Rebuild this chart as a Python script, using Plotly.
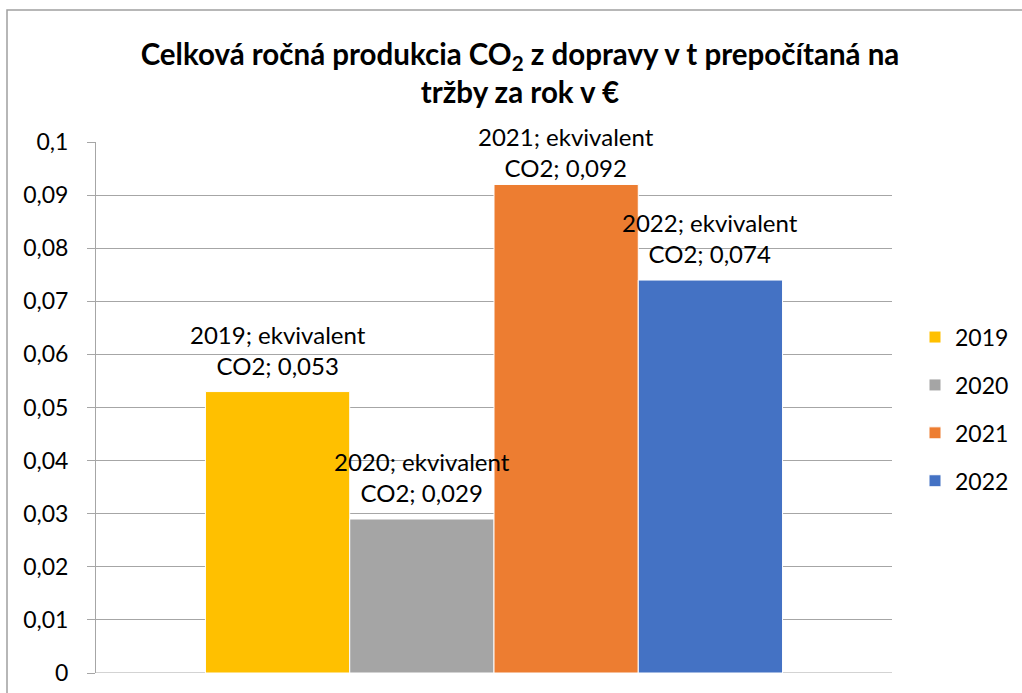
import plotly.graph_objects as go

# data
category = "ekvivalent CO2"
years = ["2019", "2020", "2021", "2022"]
values = [0.053, 0.029, 0.092, 0.074]
colors = ["#FFC000", "#A5A5A5", "#ED7D31", "#4472C4"]

title = ("Celková ročná produkcia CO<sub>2</sub> z dopravy v t prepočítaná na"
         "<br>tržby za rok v €")

FONT = "Lato"
W, H = 1022, 693
L, R, T, B = 96, 130, 142, 20
YMAX = 0.1
BARGAP = 0.275


def label(year, val):
    return f"{year}; ekvivalent<br>CO2; {str(val).replace('.', ',')}"


fig = go.Figure()
for year, val, col in zip(years, values, colors):
    fig.add_trace(go.Bar(
        x=[category], y=[val], name=year,
        marker=dict(color=col, line=dict(color="white", width=1)),
        legendgroup=year, hoverinfo="skip",
    ))

pw, ph = W - L - R, H - T - B
bar_w = pw * (1 - BARGAP) / len(years)

# data labels above each bar; the tallest one is pushed against the top
for i, (year, val) in enumerate(zip(years, values)):
    bar_top = T + ph * (1 - val / YMAX)
    label_top = bar_top - 10 - 64
    shift = 10 if label_top >= 120 else 10 - (120 - label_top)
    fig.add_annotation(
        x=category, y=val, xref="x", yref="y",
        text=label(year, val), showarrow=False,
        xanchor="center", yanchor="bottom",
        xshift=(i - (len(years) - 1) / 2) * bar_w, yshift=shift,
        font=dict(family=FONT, size=24, color="black"), align="center",
    )

# outer chart border (Excel chart area), in paper units
fig.add_shape(
    type="rect", xref="paper", yref="paper",
    x0=(7 - L) / pw, x1=(W + 5 - L) / pw,
    y0=-(B + 10) / ph, y1=(H - B - 10) / ph,
    line=dict(color="#a0a0a0", width=1.5), fillcolor="rgba(0,0,0,0)",
    layer="below",
)

fig.update_layout(
    width=W, height=H,
    margin=dict(l=L, r=R, t=T, b=B, autoexpand=False),
    paper_bgcolor="white", plot_bgcolor="white",
    separators=", ",
    font=dict(family=FONT, size=23, color="black"),
    title=dict(text=title, x=520 / W, xanchor="center", y=1 - 65 / H,
               yanchor="middle",
               font=dict(family=FONT, size=29.5, color="black",
                         weight="bold")),
    barmode="group", bargap=BARGAP, bargroupgap=0,
    showlegend=True,
    legend=dict(x=(915 - L) / pw, xanchor="left", y=0.497, yanchor="middle",
                font=dict(family=FONT, size=23), tracegroupgap=15,
                bgcolor="rgba(0,0,0,0)"),
    xaxis=dict(showticklabels=False, showline=False, showgrid=False,
               ticks=""),
    yaxis=dict(range=[0, YMAX], dtick=0.01, showgrid=True,
               gridcolor="#a6a6a6", gridwidth=1, zeroline=False,
               showline=True, linecolor="#a6a6a6", linewidth=1,
               ticks="outside", ticklen=8, tickcolor="#a6a6a6",
               ticklabelstandoff=14, ticklabeloverflow="allow",
               tickfont=dict(family=FONT, size=23, color="black")),
)
# baseline at zero across the plot
fig.add_hline(y=0, line_color="#a6a6a6", line_width=1, layer="below")

# drop the default page margin so the 1022x693 figure fills the window
fig.write_html(
    "out.html",
    config={"displayModeBar": False},
    post_script="document.body.style.margin='0';"
                "document.body.style.overflow='hidden';",
)
